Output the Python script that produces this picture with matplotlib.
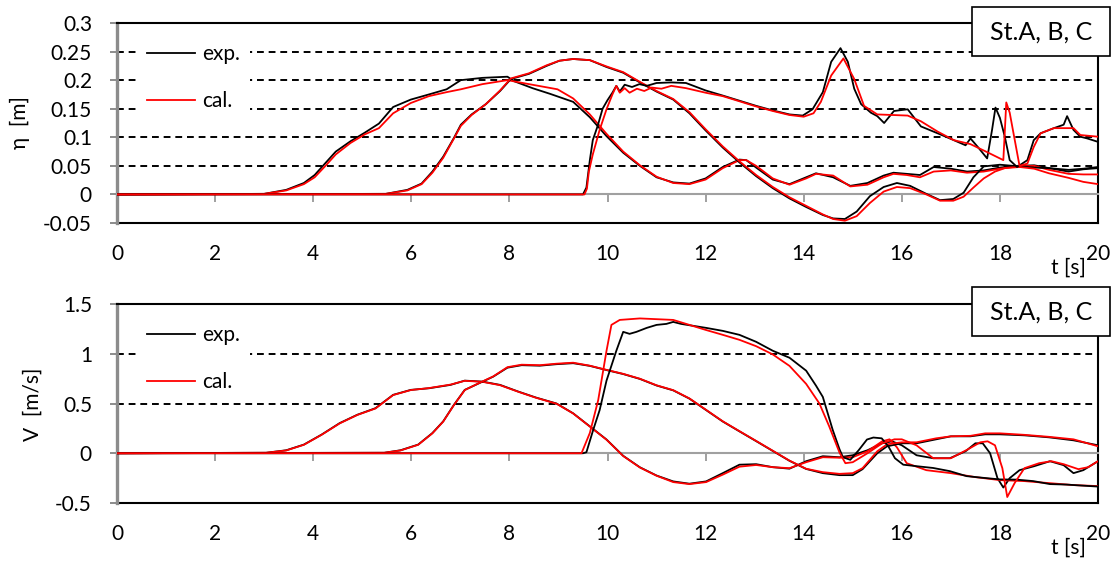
import matplotlib
matplotlib.use('Agg')
import matplotlib.pyplot as plt
from matplotlib.patches import Rectangle
from matplotlib.ticker import FuncFormatter

plt.rcParams['font.family'] = ['Lato', 'Open Sans', 'DejaVu Sans']
plt.rcParams['axes.unicode_minus'] = False

# water level eta [m], (t [s], value) pairs
eta_A_exp = [(0, 0), (3.0, 0.001), (3.45, 0.008), (3.81, 0.02), (4.03, 0.034), (4.25, 0.055), (4.46, 0.075),
             (4.76, 0.093), (5.05, 0.108), (5.34, 0.124), (5.63, 0.153), (5.99, 0.166), (6.36, 0.175),
             (6.72, 0.184), (7.01, 0.2), (7.45, 0.204), (7.96, 0.206), (8.1, 0.198), (8.47, 0.186),
             (8.83, 0.176), (9.3, 0.162), (9.64, 0.135), (9.98, 0.102), (10.32, 0.073), (10.66, 0.05),
             (11.0, 0.03), (11.34, 0.021), (11.67, 0.019), (12.0, 0.028), (12.35, 0.048), (12.69, 0.061),
             (12.83, 0.06), (13.03, 0.047), (13.37, 0.026), (13.71, 0.018), (14.05, 0.03), (14.25, 0.037),
             (14.6, 0.03), (14.95, 0.015), (15.3, 0.02), (15.63, 0.033), (15.83, 0.038), (16.1, 0.036),
             (16.37, 0.034), (16.65, 0.048), (17.0, 0.045), (17.33, 0.04), (17.67, 0.042), (18.0, 0.047),
             (18.35, 0.05), (18.7, 0.051), (19.0, 0.046), (19.4, 0.04), (19.7, 0.044), (20.0, 0.046)]
eta_A_cal = [(0, 0), (3.0, 0.001), (3.45, 0.007), (3.81, 0.018), (4.03, 0.03), (4.25, 0.05), (4.46, 0.07),
             (4.76, 0.09), (5.05, 0.105), (5.34, 0.116), (5.63, 0.142), (5.99, 0.16), (6.36, 0.172),
             (6.72, 0.179), (7.01, 0.184), (7.45, 0.193), (7.96, 0.2), (8.4, 0.193), (8.98, 0.184),
             (9.3, 0.168), (9.64, 0.14), (9.98, 0.106), (10.32, 0.075), (10.66, 0.051), (11.0, 0.031),
             (11.34, 0.02), (11.67, 0.018), (12.0, 0.026), (12.35, 0.046), (12.69, 0.06), (12.83, 0.06),
             (13.03, 0.05), (13.37, 0.028), (13.71, 0.017), (14.05, 0.028), (14.25, 0.036), (14.6, 0.033),
             (14.95, 0.014), (15.3, 0.017), (15.63, 0.03), (15.83, 0.036), (16.1, 0.034), (16.37, 0.03),
             (16.65, 0.04), (17.0, 0.042), (17.33, 0.038), (17.67, 0.04), (18.0, 0.045), (18.35, 0.049),
             (18.7, 0.05), (19.0, 0.043), (19.4, 0.036), (19.7, 0.035), (20.0, 0.035)]
eta_B_exp = [(0, 0), (5.48, 0.001), (5.92, 0.008), (6.21, 0.019), (6.43, 0.04), (6.65, 0.066), (6.87, 0.099),
             (7.01, 0.122), (7.23, 0.14), (7.52, 0.158), (7.81, 0.181), (8.03, 0.202), (8.4, 0.211),
             (8.76, 0.225), (9.02, 0.234), (9.3, 0.237), (9.64, 0.235), (9.98, 0.223), (10.32, 0.213),
             (10.66, 0.196), (11.0, 0.18), (11.34, 0.166), (11.67, 0.142), (12.0, 0.112), (12.35, 0.082),
             (12.69, 0.056), (13.03, 0.032), (13.37, 0.011), (13.71, -0.007), (14.05, -0.022), (14.39, -0.036),
             (14.6, -0.042), (14.84, -0.043), (15.08, -0.03), (15.35, -0.003), (15.63, 0.013), (15.9, 0.02),
             (16.17, 0.015), (16.5, 0.001), (16.78, -0.01), (17.05, -0.008), (17.26, 0.003), (17.46, 0.03),
             (17.67, 0.049), (18.0, 0.052), (18.4, 0.049), (18.7, 0.047), (19.0, 0.046), (19.4, 0.043),
             (19.7, 0.045), (20.0, 0.048)]
eta_B_cal = [(0, 0), (5.48, 0.001), (5.92, 0.007), (6.21, 0.018), (6.43, 0.038), (6.65, 0.064), (6.87, 0.098),
             (7.01, 0.12), (7.23, 0.139), (7.52, 0.158), (7.81, 0.182), (8.03, 0.203), (8.4, 0.212),
             (8.76, 0.226), (9.02, 0.234), (9.3, 0.237), (9.64, 0.235), (9.98, 0.224), (10.32, 0.214),
             (10.66, 0.197), (11.0, 0.181), (11.34, 0.167), (11.67, 0.144), (12.0, 0.114), (12.35, 0.084),
             (12.69, 0.058), (13.03, 0.034), (13.37, 0.013), (13.71, -0.005), (14.05, -0.02), (14.39, -0.035),
             (14.6, -0.043), (14.84, -0.046), (15.08, -0.038), (15.35, -0.015), (15.63, 0.005), (15.9, 0.013),
             (16.17, 0.011), (16.5, 0.0), (16.78, -0.011), (17.05, -0.011), (17.26, -0.004), (17.46, 0.012),
             (17.67, 0.028), (17.9, 0.04), (18.1, 0.046), (18.4, 0.048), (18.7, 0.045), (19.0, 0.037),
             (19.4, 0.029), (19.7, 0.022), (20.0, 0.018)]
eta_C_exp = [(0, 0), (9.5, 0.0), (9.57, 0.012), (9.64, 0.06), (9.7, 0.095), (9.8, 0.12), (9.9, 0.15),
             (10.0, 0.165), (10.1, 0.178), (10.18, 0.19), (10.25, 0.18), (10.35, 0.192), (10.5, 0.188),
             (10.65, 0.193), (10.8, 0.19), (11.0, 0.195), (11.3, 0.196), (11.6, 0.195), (12.0, 0.182),
             (12.35, 0.173), (12.69, 0.164), (13.03, 0.155), (13.37, 0.147), (13.71, 0.14), (13.98, 0.138),
             (14.18, 0.149), (14.39, 0.179), (14.56, 0.232), (14.75, 0.256), (14.9, 0.232), (15.03, 0.185),
             (15.17, 0.158), (15.37, 0.143), (15.5, 0.137), (15.64, 0.125), (15.84, 0.146), (16.12, 0.149),
             (16.39, 0.119), (16.73, 0.107), (17.06, 0.095), (17.3, 0.086), (17.4, 0.098), (17.55, 0.083),
             (17.74, 0.063), (17.84, 0.113), (17.91, 0.152), (18.0, 0.134), (18.1, 0.101), (18.2, 0.06),
             (18.35, 0.048), (18.56, 0.06), (18.69, 0.095), (18.83, 0.107), (19.1, 0.116), (19.3, 0.122),
             (19.37, 0.137), (19.5, 0.113), (19.64, 0.101), (19.78, 0.098), (20.0, 0.092)]
eta_C_cal = [(0, 0), (9.53, 0.0), (9.58, 0.01), (9.62, 0.04), (9.7, 0.07), (9.84, 0.113), (9.98, 0.149),
             (10.1, 0.175), (10.18, 0.19), (10.25, 0.178), (10.35, 0.186), (10.45, 0.178), (10.6, 0.185),
             (10.75, 0.181), (10.9, 0.187), (11.1, 0.185), (11.3, 0.19), (11.6, 0.186), (12.0, 0.178),
             (12.35, 0.172), (12.69, 0.163), (13.03, 0.154), (13.37, 0.146), (13.71, 0.139), (14.0, 0.136),
             (14.2, 0.142), (14.35, 0.162), (14.56, 0.208), (14.81, 0.238), (15.03, 0.202), (15.23, 0.155),
             (15.5, 0.14), (16.12, 0.138), (16.39, 0.128), (16.73, 0.11), (17.06, 0.095), (17.4, 0.088),
             (17.74, 0.074), (18.0, 0.063), (18.07, 0.06), (18.13, 0.161), (18.2, 0.143), (18.4, 0.05),
             (18.56, 0.054), (18.69, 0.083), (18.83, 0.107), (19.1, 0.116), (19.5, 0.116), (19.64, 0.104),
             (20.0, 0.101)]

# velocity V [m/s]
vel_A_exp = [(0, 0), (3.04, 0.005), (3.45, 0.03), (3.81, 0.087), (4.17, 0.187), (4.54, 0.303), (4.9, 0.387),
             (5.27, 0.453), (5.63, 0.587), (5.99, 0.637), (6.36, 0.653), (6.8, 0.687), (7.09, 0.73),
             (7.45, 0.72), (7.81, 0.687), (8.18, 0.62), (8.54, 0.56), (8.96, 0.5), (9.3, 0.401), (9.64, 0.27),
             (9.98, 0.138), (10.32, -0.026), (10.66, -0.141), (11.0, -0.224), (11.34, -0.283), (11.67, -0.306),
             (12.01, -0.283), (12.35, -0.2), (12.69, -0.115), (13.03, -0.11), (13.37, -0.14), (13.71, -0.155),
             (14.05, -0.08), (14.39, -0.03), (14.73, -0.04), (15.0, -0.02), (15.3, 0.03), (15.6, 0.1),
             (15.8, 0.12), (16.0, 0.08), (16.3, -0.02), (16.64, -0.05), (16.98, -0.05), (17.3, 0.02),
             (17.5, 0.1), (17.65, 0.1), (17.8, 0.0), (17.95, -0.25), (18.07, -0.345), (18.2, -0.25),
             (18.4, -0.17), (18.7, -0.13), (19.02, -0.08), (19.3, -0.12), (19.5, -0.2), (19.7, -0.17),
             (20.0, -0.08)]
vel_A_cal = [(0, 0), (3.04, 0.005), (3.45, 0.028), (3.81, 0.085), (4.17, 0.185), (4.54, 0.3), (4.9, 0.385),
             (5.27, 0.45), (5.63, 0.585), (5.99, 0.635), (6.36, 0.655), (6.8, 0.69), (7.09, 0.728),
             (7.45, 0.718), (7.81, 0.684), (8.18, 0.618), (8.54, 0.558), (8.96, 0.498), (9.3, 0.4),
             (9.64, 0.268), (9.98, 0.136), (10.32, -0.028), (10.66, -0.143), (11.0, -0.226), (11.34, -0.29),
             (11.67, -0.31), (12.01, -0.29), (12.35, -0.215), (12.69, -0.135), (13.03, -0.118), (13.37, -0.14),
             (13.71, -0.15), (14.05, -0.09), (14.39, -0.04), (14.73, -0.045), (15.0, -0.04), (15.3, 0.02),
             (15.6, 0.12), (15.75, 0.14), (15.9, 0.06), (16.1, -0.1), (16.5, -0.17), (17.0, -0.2),
             (17.5, -0.24), (18.0, -0.27), (18.5, -0.28), (19.0, -0.3), (19.5, -0.32), (20.0, -0.33)]
vel_B_exp = [(0, 0), (5.45, 0.005), (5.78, 0.03), (6.14, 0.087), (6.43, 0.203), (6.65, 0.32), (6.87, 0.487),
             (7.09, 0.637), (7.38, 0.703), (7.67, 0.77), (7.96, 0.86), (8.25, 0.885), (8.62, 0.88),
             (8.96, 0.895), (9.3, 0.905), (9.64, 0.878), (9.98, 0.836), (10.32, 0.796), (10.66, 0.747),
             (11.0, 0.681), (11.34, 0.632), (11.67, 0.549), (12.01, 0.434), (12.35, 0.319), (12.69, 0.22),
             (13.03, 0.122), (13.37, 0.023), (13.71, -0.076), (14.05, -0.158), (14.39, -0.2), (14.73, -0.22),
             (15.0, -0.22), (15.2, -0.16), (15.5, 0.0), (15.7, 0.07), (16.0, 0.1), (16.3, 0.1), (16.7, 0.14),
             (17.0, 0.17), (17.4, 0.17), (17.7, 0.19), (18.0, 0.19), (18.5, 0.18), (19.0, 0.16), (19.5, 0.13),
             (20.0, 0.08)]
vel_B_cal = [(0, 0), (5.45, 0.005), (5.78, 0.028), (6.14, 0.085), (6.43, 0.2), (6.65, 0.318), (6.87, 0.485),
             (7.09, 0.635), (7.38, 0.705), (7.67, 0.772), (7.96, 0.865), (8.25, 0.89), (8.62, 0.885),
             (8.96, 0.9), (9.3, 0.91), (9.64, 0.88), (9.98, 0.838), (10.32, 0.798), (10.66, 0.749),
             (11.0, 0.683), (11.34, 0.634), (11.67, 0.551), (12.01, 0.436), (12.35, 0.321), (12.69, 0.222),
             (13.03, 0.124), (13.37, 0.025), (13.71, -0.074), (14.05, -0.156), (14.39, -0.19), (14.73, -0.207),
             (15.0, -0.2), (15.2, -0.15), (15.5, 0.02), (15.7, 0.09), (16.0, 0.11), (16.3, 0.11), (16.7, 0.15),
             (17.0, 0.17), (17.4, 0.175), (17.7, 0.2), (18.0, 0.2), (18.5, 0.185), (19.0, 0.165), (19.5, 0.14),
             (20.0, 0.07)]
vel_C_exp = [(0, 0), (9.5, 0.0), (9.57, 0.01), (9.71, 0.237), (9.84, 0.434), (9.98, 0.73), (10.18, 1.03),
             (10.32, 1.22), (10.45, 1.2), (10.59, 1.22), (10.8, 1.26), (11.0, 1.29), (11.2, 1.3), (11.34, 1.32),
             (11.5, 1.3), (12.01, 1.26), (12.35, 1.23), (12.69, 1.19), (13.03, 1.12), (13.37, 1.03),
             (13.71, 0.96), (14.05, 0.83), (14.25, 0.68), (14.39, 0.566), (14.59, 0.237), (14.73, 0.04),
             (14.8, -0.04), (14.95, -0.066), (15.12, 0.03), (15.29, 0.138), (15.42, 0.158), (15.59, 0.15),
             (15.73, 0.066), (15.86, -0.05), (16.03, -0.115), (16.3, -0.13), (16.64, -0.148), (16.98, -0.18),
             (17.32, -0.23), (17.66, -0.247), (18.0, -0.263), (18.34, -0.265), (18.68, -0.28), (19.02, -0.31),
             (19.36, -0.315), (20.0, -0.335)]
vel_C_cal = [(0, 0), (9.47, 0.0), (9.64, 0.204), (9.81, 0.533), (9.98, 1.03), (10.08, 1.29), (10.25, 1.34),
             (10.66, 1.355), (11.34, 1.34), (11.67, 1.29), (12.0, 1.24), (12.35, 1.19), (12.69, 1.14),
             (13.03, 1.076), (13.37, 0.993), (13.71, 0.878), (14.05, 0.697), (14.32, 0.5), (14.52, 0.27),
             (14.73, 0.007), (14.85, -0.1), (15.0, -0.09), (15.3, 0.0), (15.6, 0.1), (15.85, 0.14), (16.0, 0.14),
             (16.3, 0.08), (16.64, -0.05), (17.0, -0.05), (17.35, 0.04), (17.6, 0.11), (17.75, 0.12),
             (17.9, 0.08), (18.05, -0.15), (18.15, -0.44), (18.3, -0.3), (18.5, -0.15), (18.8, -0.1),
             (19.05, -0.08), (19.3, -0.11), (19.6, -0.16), (19.8, -0.14), (20.0, -0.08)]

eta_ticks = [-0.05, 0, 0.05, 0.1, 0.15, 0.2, 0.25, 0.3]
vel_ticks = [-0.5, 0, 0.5, 1, 1.5]
t_ticks = list(range(0, 21, 2))

W, H = 1117, 566
FS = 15

fig = plt.figure(figsize=(W / 100, H / 100), dpi=100)
ax1 = fig.add_axes([117 / W, 1 - 223 / H, 981 / W, 200 / H])
ax2 = fig.add_axes([117 / W, 1 - 503 / H, 981 / W, 199 / H])


def setup(ax, yticks):
    ax.set_xlim(0, 20)
    ax.set_ylim(yticks[0], yticks[-1])
    ax.set_yticks(yticks)
    ax.yaxis.set_major_formatter(FuncFormatter(lambda v, p: '%g' % round(v, 3)))
    for y in yticks[1:-1]:
        if y != 0:
            ax.axhline(y, color='k', lw=1.4, ls=(0, (3.5, 2.5)), zorder=1)
    for s in ['top', 'right']:
        ax.spines[s].set_color('k')
        ax.spines[s].set_linewidth(1.5)
    ax.spines['left'].set_color('#8c8c8c')
    ax.spines['left'].set_linewidth(2.4)
    ax.spines['bottom'].set_position(('data', 0))
    ax.spines['bottom'].set_color('#a0a0a0')
    ax.spines['bottom'].set_linewidth(1.5)
    ax.set_xticks(t_ticks)
    ax.tick_params(axis='x', direction='out', length=6, width=1.4, color='#a0a0a0', labelbottom=False)
    ax.tick_params(axis='y', direction='out', length=5, width=1.4, color='#8c8c8c', labelsize=FS, pad=13)
    sec = ax.secondary_xaxis('bottom')
    sec.set_xticks(t_ticks)
    sec.tick_params(length=0, labelsize=FS, pad=15)
    sec.spines['bottom'].set_color('k')
    sec.spines['bottom'].set_linewidth(1.5)


def draw(ax, series):
    handles = []
    for data, color in series:
        t, v = zip(*data)
        h, = ax.plot(t, v, color=color, lw=1.3, zorder=3)
        handles.append(h)
    h_ax = ax.get_position().height * H
    leg = ax.legend(handles[:2], ['exp.', 'cal.'], loc='upper left',
                    bbox_to_anchor=(20 / 981, 1 - 11 / h_ax),
                    frameon=True, fancybox=False, edgecolor='none', facecolor='white', framealpha=1,
                    fontsize=FS, handlelength=2.3, handletextpad=0.35, labelspacing=1.3, borderpad=0.48,
                    borderaxespad=0)
    leg.set_zorder(5)


setup(ax1, eta_ticks)
draw(ax1, [(eta_A_exp, 'k'), (eta_A_cal, 'red'), (eta_B_exp, 'k'), (eta_B_cal, 'red'),
           (eta_C_exp, 'k'), (eta_C_cal, 'red')])
setup(ax2, vel_ticks)
draw(ax2, [(vel_A_exp, 'k'), (vel_A_cal, 'red'), (vel_B_exp, 'k'), (vel_B_cal, 'red'),
           (vel_C_exp, 'k'), (vel_C_cal, 'red')])

for y0 in [7, 287]:
    fig.add_artist(Rectangle((972 / W, 1 - (y0 + 49) / H), 138 / W, 49 / H, transform=fig.transFigure,
                             fc='white', ec='k', lw=1.2, zorder=10))
    fig.text(1041 / W, 1 - (y0 + 25) / H, 'St.A, B, C', ha='center', va='center', fontsize=18, zorder=11)

fig.text(20 / W, 1 - 123 / H, 'η  [m]', rotation=90, ha='center', va='center', fontsize=FS)
fig.text(33 / W, 1 - 404 / H, 'V  [m/s]', rotation=90, ha='center', va='center', fontsize=FS)
fig.text(1068 / W, 1 - 268 / H, 't [s]', ha='center', va='center', fontsize=FS)
fig.text(1068 / W, 1 - 548 / H, 't [s]', ha='center', va='center', fontsize=FS)

fig.savefig('out.png', dpi=100)
